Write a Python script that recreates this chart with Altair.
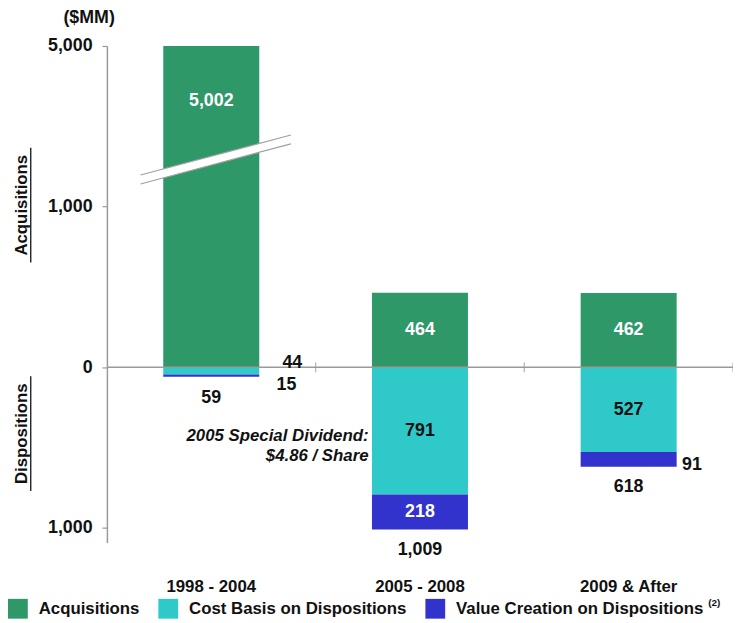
import altair as alt
import pandas as pd

# ---------------- data ----------------
periods = ["1998 - 2004", "2005 - 2008", "2009 & After"]
acquisitions = [5002, 464, 462]
cost_basis = [44, 791, 527]
value_creation = [15, 218, 91]
series_names = ["Acquisitions", "Cost Basis on Dispositions", "Value Creation on Dispositions"]
series_colors = ["#2E9868", "#30C9C9", "#3232CC"]
label_colors = ["#ffffff", "#111111", "#ffffff"]
axis_ticks = [5000, 1000, 0, -1000]
axis_tick_labels = ["5,000", "1,000", "0", "1,000"]
note_lines = ["2005 Special Dividend:", "$4.86 / Share"]

FONT = "Liberation Sans"
BREAK_AT = 1000      # axis is broken above this value
BREAK_RATIO = 4      # compression factor above the break


def disp(v):
    s = 1 if v >= 0 else -1
    a = abs(v)
    if a > BREAK_AT:
        a = BREAK_AT + (a - BREAK_AT) / BREAK_RATIO
    return s * a


rows = []
for i, p in enumerate(periods):
    segs = [
        (series_names[0], acquisitions[i], 0.0, disp(acquisitions[i])),
        (series_names[1], cost_basis[i], 0.0, -cost_basis[i]),
        (series_names[2], value_creation[i], -cost_basis[i], -(cost_basis[i] + value_creation[i])),
    ]
    for k, (s, v, y0, y1) in enumerate(segs):
        rows.append(dict(period=p, series=s, value=v, y0=y0, y1=y1,
                         mid=(y0 + y1) / 2, label=f"{v:,}", tcolor=label_colors[k]))
df = pd.DataFrame(rows)

df_tot = pd.DataFrame(dict(period=periods,
                           total=[c + v for c, v in zip(cost_basis, value_creation)]))
df_tot["y"] = -df_tot["total"]
df_tot["label"] = [f"{t:,}" for t in df_tot["total"]]

# ---------------- scales / encodings ----------------
x_scale = alt.Scale(domain=periods, paddingInner=0, paddingOuter=0)
y_scale = alt.Scale(domain=[-1090, 2000], nice=False, zero=False)

expr = ""
for t, lab in zip(axis_ticks, axis_tick_labels):
    expr += f"datum.value == {disp(t)} ? '{lab}' : "
expr += "''"

y_axis = alt.Axis(values=[disp(t) for t in axis_ticks], labelExpr=expr, title=None,
                  grid=False, domainColor="#9a9a9a", domainWidth=1.5,
                  tickColor="#9a9a9a", tickSize=5, tickWidth=1.2,
                  labelFontSize=18, labelFontWeight="bold", labelFont=FONT,
                  labelColor="#111111", labelPadding=10)

x_axis = alt.Axis(title=None, orient="bottom", domain=False, ticks=False, labelAngle=0,
                  labelFontSize=17, labelFontWeight="bold", labelFont=FONT,
                  labelColor="#111111", labelPadding=37)


def X(**kw):
    return alt.X("period:N", scale=x_scale, **kw)


def Y(field):
    return alt.Y(field, scale=y_scale, axis=y_axis)


bars = alt.Chart(df).mark_bar(width=alt.RelativeBandSize(0.46)).encode(
    x=X(axis=x_axis),
    y=Y("y1:Q"),
    y2="y0:Q",
    color=alt.Color("series:N",
                    scale=alt.Scale(domain=series_names, range=series_colors),
                    legend=alt.Legend(title=None, orient="none", legendX=-100, legendY=559,
                                      direction="horizontal", symbolType="square",
                                      symbolSize=400, symbolStrokeWidth=0, symbolOpacity=1,
                                      labelFontSize=17, labelFontWeight="bold",
                                      labelFont=FONT, labelColor="#111111", labelLimit=600,
                                      labelOffset=11, columnPadding=18, padding=0)),
)

zero_line = alt.Chart(pd.DataFrame({"z": [0]})).mark_rule(color="#9a9a9a", strokeWidth=1.5).encode(
    y=Y("z:Q"))

sep_ticks = alt.Chart(pd.DataFrame({"period": periods})).mark_tick(
    orient="vertical", size=10, thickness=1.3, color="#9a9a9a").encode(
    x=X(bandPosition=1), y=alt.datum(0))

txt = dict(font=FONT, fontWeight="bold", fontSize=18, baseline="middle")

inside = df[(df["value"] >= 150) & (df["value"] <= BREAK_AT)]
inside_labels = alt.Chart(inside).mark_text(**txt).encode(
    x=X(), y=Y("mid:Q"), text="label:N",
    color=alt.Color("tcolor:N", scale=None))

broken = df[df["value"] > BREAK_AT]
top_labels = alt.Chart(broken).mark_text(dy=56, color="white", **txt).encode(
    x=X(), y=Y("y1:Q"), text="label:N")

outside_place = [
    (periods[0], series_names[1], 82, -8),
    (periods[0], series_names[2], 76, 10),
    (periods[2], series_names[2], 64, 6),
]
outside_layers = []
for p, s, dx, dy in outside_place:
    sub = df[(df["period"] == p) & (df["series"] == s)]
    outside_layers.append(
        alt.Chart(sub).mark_text(dx=dx, dy=dy, color="#111111", **txt).encode(
            x=X(), y=Y("mid:Q"), text="label:N"))

totals = alt.Chart(df_tot).mark_text(dy=21, color="#111111", **txt).encode(
    x=X(), y=Y("y:Q"), text="label:N")

note = alt.Chart(pd.DataFrame({"period": [periods[1]], "y": [-430]})).mark_text(
    text=note_lines, align="right", dx=-52, lineHeight=20, fontStyle="italic",
    font=FONT, fontWeight="bold", fontSize=17, baseline="middle", color="#111111").encode(
    x=X(), y=Y("y:Q"))

one = pd.DataFrame({"a": [0]})

# axis break marker (decoration)
brk_white = alt.Chart(one).mark_rule(color="white", strokeWidth=9).encode(
    x=alt.value(34), y=alt.value(135), x2=alt.value(186), y2=alt.value(94.5))
brk_a = alt.Chart(one).mark_rule(color="#a0a0a0", strokeWidth=1.2).encode(
    x=alt.value(34), y=alt.value(130.5), x2=alt.value(186), y2=alt.value(90))
brk_b = alt.Chart(one).mark_rule(color="#a0a0a0", strokeWidth=1.2).encode(
    x=alt.value(34), y=alt.value(139.5), x2=alt.value(186), y2=alt.value(99))

unit = alt.Chart(one).mark_text(text="($MM)", font=FONT, fontWeight="bold", fontSize=18,
                                baseline="middle", color="#111111").encode(
    x=alt.value(-18), y=alt.value(-28))

title_acq = alt.Chart(one).mark_text(text="Acquisitions", angle=270, font=FONT,
                                     fontWeight="bold", fontSize=17, baseline="middle",
                                     color="#111111").encode(
    x=alt.value(-86), y=alt.value(161))
title_dis = alt.Chart(one).mark_text(text="Dispositions", angle=270, font=FONT,
                                     fontWeight="bold", fontSize=17, baseline="middle",
                                     color="#111111").encode(
    x=alt.value(-86), y=alt.value(392))
ul_acq = alt.Chart(one).mark_rule(color="#111111", strokeWidth=1.3).encode(
    x=alt.value(-77), y=alt.value(103), y2=alt.value(219))
ul_dis = alt.Chart(one).mark_rule(color="#111111", strokeWidth=1.3).encode(
    x=alt.value(-77), y=alt.value(334), y2=alt.value(450))

sup = alt.Chart(one).mark_text(text="(2)", font=FONT, fontWeight="bold", fontSize=10,
                               align="left", baseline="middle", color="#111111").encode(
    x=alt.value(608), y=alt.value(563))

chart = alt.layer(
    bars, zero_line, sep_ticks, brk_white, brk_a, brk_b,
    inside_labels, top_labels, *outside_layers, totals, note,
    unit, title_acq, title_dis, ul_acq, ul_dis, sup,
).properties(
    width=633, height=502,
    padding={"left": 100, "top": 35, "right": 0, "bottom": 78},
    autosize=alt.AutoSizeParams(type="none"),
).configure_view(stroke=None)

chart.save("out.html", embed_options={"renderer": "svg", "actions": False})
